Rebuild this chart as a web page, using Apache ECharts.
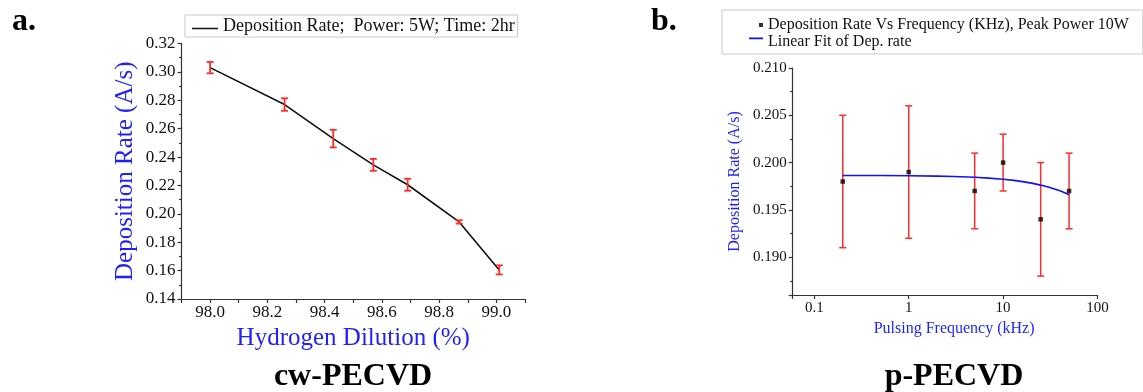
<!DOCTYPE html>
<html><head><meta charset="utf-8">
<script src="https://cdn.jsdelivr.net/npm/echarts@6/dist/echarts.min.js"></script>
<style>html,body{margin:0;padding:0;background:#fff;}#c{width:1143px;height:392px;}</style>
</head><body><div id="c"></div>
<script>
// ---- Panel a: cw-PECVD ----
const dilution = [98.0, 98.26, 98.43, 98.57, 98.69, 98.87, 99.01];
const cwRate   = [0.303, 0.277, 0.253, 0.2345, 0.2205, 0.1943, 0.1605];
const cwErr    = [0.004, 0.0044, 0.0062, 0.0042, 0.0042, 0.0012, 0.0032];

// ---- Panel b: p-PECVD ----
const freq     = [0.2, 1, 5, 10, 25, 50];
const pRate    = [0.198, 0.199, 0.197, 0.200, 0.194, 0.197];
const pErrLow  = [0.191, 0.192, 0.193, 0.197, 0.188, 0.193];
const pErrHigh = [0.205, 0.206, 0.201, 0.203, 0.200, 0.201];

// linear fit curve
const fitFreq = [0.2, 0.5, 1, 2, 3, 5, 7, 10, 13, 16, 20, 25, 30, 35, 40, 45, 50];
const fitRate = [0.19864, 0.19863, 0.19861, 0.19857, 0.19853, 0.19845, 0.19836, 0.19824,
                 0.19812, 0.19799, 0.19783, 0.19762, 0.19742, 0.19721, 0.19701, 0.19680, 0.19660];

const cwXLabels = ['98.0', '98.2', '98.4', '98.6', '98.8', '99.0'];
const pXLabels  = ['0.1', '1', '10', '100'];

const cwName  = 'Deposition Rate;  Power: 5W; Time: 2hr';
const pName   = 'Deposition Rate Vs Frequency (KHz), Peak Power 10W';
const fitName = 'Linear Fit of Dep. rate';

const SERIF = '"Liberation Serif", "Times New Roman", serif';
const BLUE = '#1f1fff';
const RED = '#ff2a2a';

function errBars(capHalf, color, width) {
  return function (params, api) {
    const x = api.value(0), lo = api.value(1), hi = api.value(2);
    const t = api.coord([x, hi]), b = api.coord([x, lo]);
    const st = { stroke: color, lineWidth: width, fill: null };
    return { type: 'group', children: [
      { type: 'line', shape: { x1: t[0], y1: t[1], x2: b[0], y2: b[1] }, style: st },
      { type: 'line', shape: { x1: t[0] - capHalf, y1: t[1], x2: t[0] + capHalf, y2: t[1] }, style: st },
      { type: 'line', shape: { x1: b[0] - capHalf, y1: b[1], x2: b[0] + capHalf, y2: b[1] }, style: st }
    ]};
  };
}

const axisLineStyle = { color: '#333', width: 1.2 };

const chart = echarts.init(document.getElementById('c'), null, { renderer: 'canvas' });
chart.setOption({
  backgroundColor: '#fff',
  animation: false,
  title: [
    { text: 'a.', left: 7, top: 1, textStyle: { fontFamily: SERIF, fontSize: 32, fontWeight: 'bold', color: '#000' } },
    { text: 'b.', left: 646, top: 1, textStyle: { fontFamily: SERIF, fontSize: 32, fontWeight: 'bold', color: '#000' } },
    { text: 'cw-PECVD', left: 348, top: 356, textAlign: 'center', textStyle: { fontFamily: SERIF, fontSize: 32, fontWeight: 'bold', color: '#000' } },
    { text: 'p-PECVD', left: 949, top: 356, textAlign: 'center', textStyle: { fontFamily: SERIF, fontSize: 32, fontWeight: 'bold', color: '#000' } }
  ],
  legend: [
    {
      data: [{ name: cwName, icon: 'path://M0,0L0.01,0L0.01,0.01Z M0,7.7L26,7.7L26,9.3L0,9.3Z M26,12L25.99,12L25.99,11.99Z' }],
      left: 185, top: 15, padding: [2, 3, 2, 7],
      itemWidth: 26, itemHeight: 12,
      borderColor: '#c8c8c8', borderWidth: 1, backgroundColor: '#fff',
      textStyle: { fontFamily: SERIF, fontSize: 18, lineHeight: 18, color: '#111' }
    },
    {
      data: [
        { name: pName, icon: 'path://M0,0L0.01,0L0.01,0.01Z M10,4.5L14,4.5L14,8.5L10,8.5Z M14,13L13.99,13L13.99,12.99Z' },
        { name: fitName, icon: 'path://M0,0L0.01,0L0.01,0.01Z M0,2.1L14,2.1L14,3.7L0,3.7Z M14,13L13.99,13L13.99,12.99Z' }
      ],
      orient: 'vertical', left: 722, top: 10, padding: [7, 14, 4, 27],
      itemWidth: 14, itemHeight: 13, itemGap: 1,
      borderColor: '#c8c8c8', borderWidth: 1, backgroundColor: '#fff',
      textStyle: { fontFamily: SERIF, fontSize: 16, lineHeight: 13, color: '#111' }
    }
  ],
  grid: [
    { left: 181.5, top: 43.5, width: 343.5, height: 255.5, containLabel: false, outerBoundsMode: 'none' },
    { left: 792.7, top: 68, width: 304.8, height: 227, containLabel: false, outerBoundsMode: 'none' }
  ],
  xAxis: [
    {
      gridIndex: 0, type: 'value', min: 97.9, max: 99.1, interval: 0.1,
      name: 'Hydrogen Dilution (%)', nameLocation: 'middle', nameGap: 21,
      nameTextStyle: { fontFamily: SERIF, fontSize: 25, color: BLUE },
      axisLine: { lineStyle: axisLineStyle },
      axisTick: { show: true, length: 4, lineStyle: axisLineStyle },
      splitLine: { show: false },
      axisLabel: {
        margin: 5, fontFamily: SERIF, fontSize: 17, color: '#111',
        showMinLabel: true, showMaxLabel: true, hideOverlap: false,
        formatter: function (v) {
          const s = (Math.round(v * 10) / 10).toFixed(1);
          return cwXLabels.indexOf(s) >= 0 ? s : '';
        }
      }
    },
    {
      gridIndex: 1, type: 'log', logBase: 10, min: 0.059, max: 100,
      name: 'Pulsing Frequency (kHz)', nameLocation: 'middle', nameGap: 22,
      nameTextStyle: { fontFamily: SERIF, fontSize: 16, color: BLUE, padding: [0, 0, 0, 18] },
      axisLine: { lineStyle: axisLineStyle },
      axisTick: { show: true, length: 4, lineStyle: axisLineStyle },
      splitLine: { show: false },
      axisLabel: {
        margin: 6, fontFamily: SERIF, fontSize: 15, color: '#111', hideOverlap: false,
        formatter: function (v) {
          const s = String(+v.toPrecision(3));
          return pXLabels.indexOf(s) >= 0 ? s : '';
        }
      }
    }
  ],
  yAxis: [
    {
      gridIndex: 0, type: 'value', min: 0.14, max: 0.32, interval: 0.02,
      name: 'Deposition Rate (A/s)', nameLocation: 'middle', nameGap: 44,
      nameTextStyle: { fontFamily: SERIF, fontSize: 25, color: BLUE },
      axisLine: { show: true, lineStyle: axisLineStyle },
      axisTick: { show: true, length: 4, lineStyle: axisLineStyle },
      minorTick: { show: true, splitNumber: 2, length: 2.5, lineStyle: axisLineStyle },
      splitLine: { show: false },
      axisLabel: { margin: 6, fontFamily: SERIF, fontSize: 17, color: '#111', formatter: v => v.toFixed(2) }
    },
    {
      gridIndex: 1, type: 'value', min: 0.186, max: 0.210, splitNumber: 5,
      name: 'Deposition Rate (A/s)', nameLocation: 'middle', nameGap: 50,
      nameTextStyle: { fontFamily: SERIF, fontSize: 16, color: BLUE },
      axisLine: { show: true, lineStyle: axisLineStyle },
      axisTick: { show: true, length: 4, lineStyle: axisLineStyle },
      minorTick: { show: true, splitNumber: 2, length: 2.5, lineStyle: axisLineStyle },
      splitLine: { show: false },
      axisLabel: {
        margin: 6, fontFamily: SERIF, fontSize: 15, color: '#111',
        formatter: function (v) { return Math.round(v * 1000) % 5 === 0 ? v.toFixed(3) : ''; }
      }
    }
  ],
  series: [
    {
      name: cwName, type: 'line', xAxisIndex: 0, yAxisIndex: 0,
      data: dilution.map((x, i) => [x, cwRate[i]]),
      showSymbol: false, symbol: 'none', lineStyle: { color: '#111', width: 1.6 }, itemStyle: { color: '#111' }, z: 2
    },
    {
      name: 'cwErr', type: 'custom', xAxisIndex: 0, yAxisIndex: 0,
      data: dilution.map((x, i) => [x, cwRate[i] - cwErr[i], cwRate[i] + cwErr[i]]),
      encode: { x: 0, y: [1, 2] },
      renderItem: errBars(3.5, RED, 1.8), z: 3
    },
    {
      name: 'pErr', type: 'custom', xAxisIndex: 1, yAxisIndex: 1,
      data: freq.map((x, i) => [x, pErrLow[i], pErrHigh[i]]),
      encode: { x: 0, y: [1, 2] },
      renderItem: errBars(3.5, RED, 1.5), z: 2
    },
    {
      name: fitName, type: 'line', xAxisIndex: 1, yAxisIndex: 1,
      data: fitFreq.map((x, i) => [x, fitRate[i]]),
      showSymbol: false, symbol: 'none', lineStyle: { color: '#1010ff', width: 1.6 }, itemStyle: { color: '#1010ff' }, z: 3
    },
    {
      name: pName, type: 'scatter', xAxisIndex: 1, yAxisIndex: 1,
      data: freq.map((x, i) => [x, pRate[i]]),
      symbol: 'rect', symbolSize: 4.5, itemStyle: { color: '#000' }, z: 4
    }
  ]
});
</script>
</body></html>
